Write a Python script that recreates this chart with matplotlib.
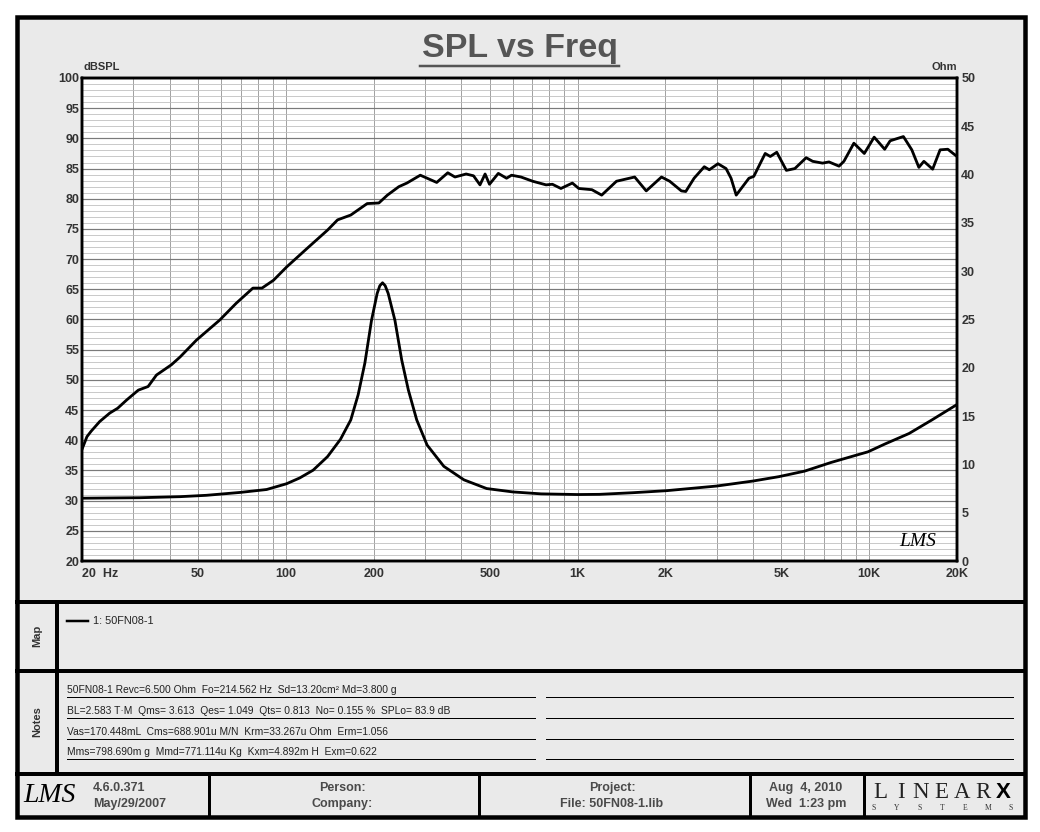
import matplotlib
matplotlib.use('Agg')
import matplotlib.pyplot as plt
from matplotlib.patches import Rectangle
from matplotlib.ticker import FixedLocator, NullFormatter

plt.rcParams['font.family'] = ['Liberation Sans', 'DejaVu Sans']

# SPL response (Hz, dBSPL)
spl_freq = [20, 20.8, 21.5, 23, 24.9, 26.5, 28.5, 31.2, 33.7, 36, 40.5, 43.4,
            49.4, 59.3, 67.6, 77.1, 82.8, 90.7, 100.6, 118.4, 138.9, 150.4,
            166.9, 190, 208.4, 222.9, 244, 260, 289, 329, 359, 380, 415, 440,
            463, 482, 499, 535, 571, 594, 640, 702, 780, 820, 877, 960, 1010,
            1120, 1210, 1360, 1570, 1720, 1940, 2070, 2270, 2350, 2510, 2720,
            2830, 3030, 3230, 3360, 3500, 3870, 4020, 4400, 4580, 4820, 5200,
            5560, 6080, 6400, 6920, 7280, 7880, 8190, 8860, 9620, 10400,
            11300, 11800, 13100, 14000, 14800, 15400, 16500, 17500, 18600,
            20000]
spl_db = [38.5, 40.6, 41.5, 43.1, 44.5, 45.3, 46.7, 48.3, 48.9, 50.8, 52.5,
          53.8, 56.6, 59.9, 62.7, 65.2, 65.2, 66.5, 68.7, 71.8, 74.8, 76.5,
          77.3, 79.2, 79.3, 80.6, 82.0, 82.6, 83.9, 82.7, 84.3, 83.6, 84.1,
          83.8, 82.3, 84.1, 82.4, 84.2, 83.4, 83.9, 83.6, 82.9, 82.3, 82.4,
          81.7, 82.6, 81.7, 81.5, 80.6, 82.9, 83.6, 81.3, 83.6, 82.9, 81.3,
          81.2, 83.4, 85.3, 84.8, 85.8, 85.0, 83.4, 80.6, 83.4, 83.7, 87.5,
          87.0, 87.7, 84.7, 85.0, 86.8, 86.2, 85.9, 86.1, 85.4, 86.2, 89.2,
          87.5, 90.2, 88.2, 89.6, 90.3, 88.1, 85.2, 86.2, 84.9, 88.1, 88.2,
          87.0]

# Impedance (Hz, Ohm)
imp_freq = [20, 31.6, 43.4, 53.4, 69.8, 85.9, 100.6, 111.6, 124, 138.9, 153.9,
            166.9, 176.9, 186.6, 196.6, 205.6, 210, 214.5, 219, 224.3, 236.6,
            249.6, 263, 281, 305, 348, 408, 488, 600, 750, 1000, 1190, 1550,
            2020, 3000, 4000, 4900, 6000, 7400, 8900, 9900, 11300, 13700,
            16400, 20000]
imp_ohm = [6.5, 6.55, 6.66, 6.8, 7.1, 7.4, 8.0, 8.6, 9.4, 10.8, 12.6, 14.6,
           17.2, 20.5, 24.9, 27.7, 28.5, 28.8, 28.5, 27.7, 24.9, 20.8, 17.7,
           14.6, 12.0, 9.8, 8.4, 7.5, 7.15, 6.95, 6.88, 6.9, 7.07, 7.28, 7.76,
           8.28, 8.73, 9.3, 10.2, 10.9, 11.3, 12.1, 13.2, 14.6, 16.2]

x_major = [20, 50, 100, 200, 500, 1000, 2000, 5000, 10000, 20000]
x_labels = ['20  Hz', '50', '100', '200', '500', '1K', '2K', '5K', '10K', '20K']

notes = [
    '50FN08-1 Revc=6.500 Ohm  Fo=214.562 Hz  Sd=13.20cm\u00b2 Md=3.800 g',
    'BL=2.583 T\u00b7M  Qms= 3.613  Qes= 1.049  Qts= 0.813  No= 0.155 %  SPLo= 83.9 dB',
    'Vas=170.448mL  Cms=688.901u M/N  Krm=33.267u Ohm  Erm=1.056',
    'Mms=798.690m g  Mmd=771.114u Kg  Kxm=4.892m H  Exm=0.622',
]

W, H = 1040, 832
PX = 0.72  # points per pixel at dpi 100
BG = '#eaeaea'
TXT = '#333333'
FOOT = '#4a4a4a'

fig = plt.figure(figsize=(W / 100, H / 100), dpi=100, facecolor='white')

# page frame drawn in pixel coordinates
bg = fig.add_axes([0, 0, 1, 1], zorder=0)
bg.set_xlim(0, W)
bg.set_ylim(H, 0)
bg.axis('off')
bg.add_patch(Rectangle((16.5, 16.5), 1008.5, 800, facecolor=BG,
                       edgecolor='black', lw=4.5 * PX))
for y in (602, 671, 774):
  bg.plot([16.5, 1025], [y, y], color='black', lw=4 * PX)
bg.plot([57, 57], [602, 774], color='black', lw=4 * PX)
for x in (208.5, 478.5, 750, 864):
  bg.plot([x, x], [774, 816.5], color='black', lw=3 * PX)

# title
bg.text(519.5, 48, 'SPL vs Freq', ha='center', va='center', fontsize=24.5,
        fontweight='bold', color='#555555')
bg.plot([420, 619], [65.5, 65.5], color='#555555', lw=2.5 * PX)
bg.text(83, 67, 'dBSPL', ha='left', va='center', fontsize=8,
        fontweight='bold', color=TXT)
bg.text(957, 67, 'Ohm', ha='right', va='center', fontsize=8,
        fontweight='bold', color=TXT)

# side labels
bg.text(37, 636, 'Map', rotation=90, ha='center', va='center', fontsize=8,
        fontweight='bold', color=TXT)
bg.text(37, 722, 'Notes', rotation=90, ha='center', va='center', fontsize=8,
        fontweight='bold', color=TXT)

# map legend
bg.plot([67, 88], [621, 621], color='black', lw=2.5 * PX)
bg.text(93, 621, '1: 50FN08-1', ha='left', va='center', fontsize=7.8,
        color='#222222')

# notes
for i, line in enumerate(notes):
  y = 697 + i * 20.8
  bg.text(67, y - 2, line, ha='left', va='bottom', fontsize=7.4,
          color='#222222')
  bg.plot([67, 535], [y, y], color='black', lw=1 * PX)
  bg.plot([546, 1013], [y, y], color='black', lw=1 * PX)

# footer
bg.text(50, 796, 'LMS', ha='center', va='center', fontsize=20,
        family='Liberation Serif', style='italic', color='black')
bg.text(93, 788, '4.6.0.371', ha='left', va='center', fontsize=9,
        fontweight='bold', color=FOOT)
bg.text(93, 804, 'May/29/2007', ha='left', va='center', fontsize=9,
        fontweight='bold', color=FOOT)
for cx, top, bottom in ((342, 'Person:', 'Company:'),
                        (612, 'Project:', 'File: 50FN08-1.lib'),
                        (806, 'Aug  4, 2010', 'Wed  1:23 pm')):
  bg.text(cx, 788, top, ha='center', va='center', fontsize=9,
          fontweight='bold', color=FOOT)
  bg.text(cx, 804, bottom, ha='center', va='center', fontsize=9,
          fontweight='bold', color=FOOT)

# LinearX logo
for i, ch in enumerate('LINEAR'):
  bg.text(880 + i * 20.5, 798, ch, ha='center', va='baseline', fontsize=16.5,
          family='Liberation Serif', color='#222222')
bg.text(1003, 798, 'X', ha='center', va='baseline', fontsize=16,
        family='Liberation Sans', fontweight='bold', color='black')
for i, ch in enumerate('SYSTEMS'):
  bg.text(874 + i * 22.8, 807.5, ch, ha='center', va='center', fontsize=5.5,
          family='Liberation Serif', color='#333333')

# plot area
ax = fig.add_axes([82 / W, 1 - 561 / H, 875 / W, 483 / H], zorder=2)
ax.set_facecolor('white')
ax.set_xscale('log')
ax.set_xlim(20, 20000)
ax.set_ylim(20, 100)

minor = []
for dec in (10, 100, 1000, 10000):
  for m in range(1, 10):
    f = dec * m
    if 20 <= f <= 20000 and f not in x_major:
      minor.append(f)
ax.xaxis.set_major_locator(FixedLocator(x_major))
ax.xaxis.set_minor_locator(FixedLocator(minor))
ax.xaxis.set_minor_formatter(NullFormatter())
ax.set_xticklabels(x_labels)
ax.set_yticks(range(20, 101, 5))
ax.set_yticks(range(20, 101, 1), minor=True)

ax.grid(True, axis='x', which='both', color='#8c8c8c', lw=0.8 * PX)
ax.grid(True, axis='y', which='major', color='#7a7a7a', lw=1.2 * PX)
ax.grid(True, axis='y', which='minor', color='#bdbdbd', lw=0.8 * PX)
ax.set_axisbelow(True)
ax.tick_params(which='both', length=0)
ax.tick_params(axis='x', pad=5, labelsize=9, labelcolor=TXT)
ax.tick_params(axis='y', pad=2, labelsize=9, labelcolor=TXT)
for lab in ax.get_xticklabels() + ax.get_yticklabels():
  lab.set_fontweight('bold')
ax.get_xticklabels()[0].set_horizontalalignment('left')
for s in ax.spines.values():
  s.set_linewidth(2.5 * PX)
  s.set_color('black')

ax.plot(spl_freq, spl_db, color='black', lw=2.8 * PX, solid_joinstyle='round')

ax2 = ax.twinx()
ax2.set_ylim(0, 50)
ax2.set_yticks(range(0, 51, 5))
ax2.tick_params(which='both', length=0, pad=3, labelsize=9,
                labelcolor=TXT)
for lab in ax2.get_yticklabels():
  lab.set_fontweight('bold')
for s in ax2.spines.values():
  s.set_linewidth(2.5 * PX)
ax2.plot(imp_freq, imp_ohm, color='black', lw=2.8 * PX,
         solid_joinstyle='round')

ax2.text(0.955, 0.04, 'LMS', transform=ax2.transAxes, ha='center',
         va='center', fontsize=14, family='Liberation Serif',
         style='italic', color='black')

fig.savefig('out.png', dpi=100, facecolor='white')
